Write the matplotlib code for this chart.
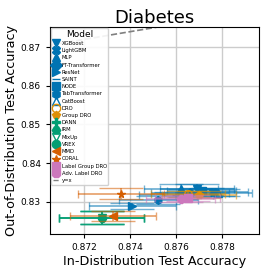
import numpy as np
import matplotlib
matplotlib.use("Agg")
import matplotlib.pyplot as plt
from matplotlib.lines import Line2D

# Diabetes: ID vs OOD test accuracy per model (mean +- std)
models = ["XGBoost", "LightGBM", "MLP", "FT-Transformer", "ResNet", "SAINT",
          "NODE", "TabTransformer", "CatBoost", "DRO", "Group DRO", "DANN",
          "IRM", "MixUp", "VREX", "MMD", "CORAL", "Label Group DRO",
          "Adv. Label DRO"]
id_acc = [0.8769, 0.8776, 0.8762, 0.8766, 0.8741, 0.8760, 0.8771, 0.87523,
          0.8778, 0.8765, 0.8770, 0.87276, 0.87276, 0.87276, 0.87276,
          0.87325, 0.87361, 0.8765, 0.8762]
ood_acc = [0.8333, 0.8326, 0.8334, 0.8322, 0.82897, 0.8317, 0.8327, 0.83052,
           0.8324, 0.8320, 0.8318, 0.82588, 0.82588, 0.82588, 0.82588,
           0.82631, 0.83211, 0.8310, 0.8307]
id_err = [0.0016, 0.0015, 0.0016, 0.0017, 0.0019, 0.0016, 0.0015, 0.0017,
          0.0015, 0.0016, 0.0016, 0.00185, 0.00185, 0.00185, 0.00185,
          0.00186, 0.00187, 0.0014, 0.0015]
ood_err = [0.0012, 0.0010, 0.0011, 0.0010, 0.0007, 0.0009, 0.0010, 0.0011,
           0.0009, 0.0008, 0.0009, 0.0017, 0.0017, 0.0017, 0.0017,
           0.0012, 0.0015, 0.0008, 0.0008]

blue, orange, green, red, pink = "#0173b2", "#de8f05", "#029e73", "#d55e00", "#cc78bc"
colors = [blue] * 9 + [orange] * 2 + [green] * 4 + [red] * 2 + [pink] * 2
markers = ["v", "X", "^", "D", ">", "_", "s", "h", "^", "o", "p", "P", "H",
           "v", "o", "<", "*", "s", "8"]
hollow = {"CatBoost", "DRO", "MixUp"}

fig = plt.figure(figsize=(2.66, 2.73), dpi=100)
ax = fig.add_axes([0.188, 0.143, 0.786, 0.758])

for i, m in enumerate(models):
    c = colors[i]
    face = "none" if m in hollow else c
    # horizontal (ID) error with short caps
    ax.errorbar(id_acc[i], ood_acc[i], xerr=id_err[i], fmt="none",
                ecolor=c, elinewidth=1.3, capsize=2.8, alpha=0.55)
    # vertical (OOD) error with wide caps
    ax.errorbar(id_acc[i], ood_acc[i], yerr=ood_err[i], fmt="none",
                ecolor=c, elinewidth=1.3, capsize=16, alpha=0.55)
    ax.plot(id_acc[i], ood_acc[i], marker=markers[i], color=c,
            markerfacecolor=face, markersize=5.5, linestyle="none")

xlim = (0.87052, 0.8796)
ylim = (0.8217, 0.8752)
lo, hi = max(xlim[0], ylim[0]), min(xlim[1], ylim[1])
ax.plot([lo, hi], [lo, hi], "--", color="gray", lw=1.2)
ax.set_xlim(xlim)
ax.set_ylim(ylim)

ax.set_xticks([0.872, 0.874, 0.876, 0.878])
ax.set_yticks([0.83, 0.84, 0.85, 0.86, 0.87])
ax.tick_params(labelsize=6.5, length=3)
ax.grid(True, color="#cccccc", linewidth=1)
ax.set_axisbelow(True)
ax.set_xlabel("In-Distribution Test Accuracy", fontsize=9.2, labelpad=2)
ax.set_ylabel("Out-of-Distribution Test Accuracy", fontsize=9.2, labelpad=2)
ax.set_title("Diabetes", fontsize=13, pad=3)

handles = []
for i, m in enumerate(models):
    face = "none" if m in hollow else colors[i]
    handles.append(Line2D([], [], marker=markers[i], color=colors[i],
                          markerfacecolor=face, markersize=6,
                          linestyle="none", label=m))
handles.append(Line2D([], [], color="gray", linestyle="--", lw=1, label="y=x"))
ax.legend(handles=handles, title="Model", loc="upper left", fontsize=3.8,
          title_fontsize=6.5, labelspacing=0.42, handletextpad=0.5,
          borderpad=0.3, borderaxespad=0.2, handlelength=1.2, framealpha=0.9)

fig.savefig("out.png", dpi=100)
